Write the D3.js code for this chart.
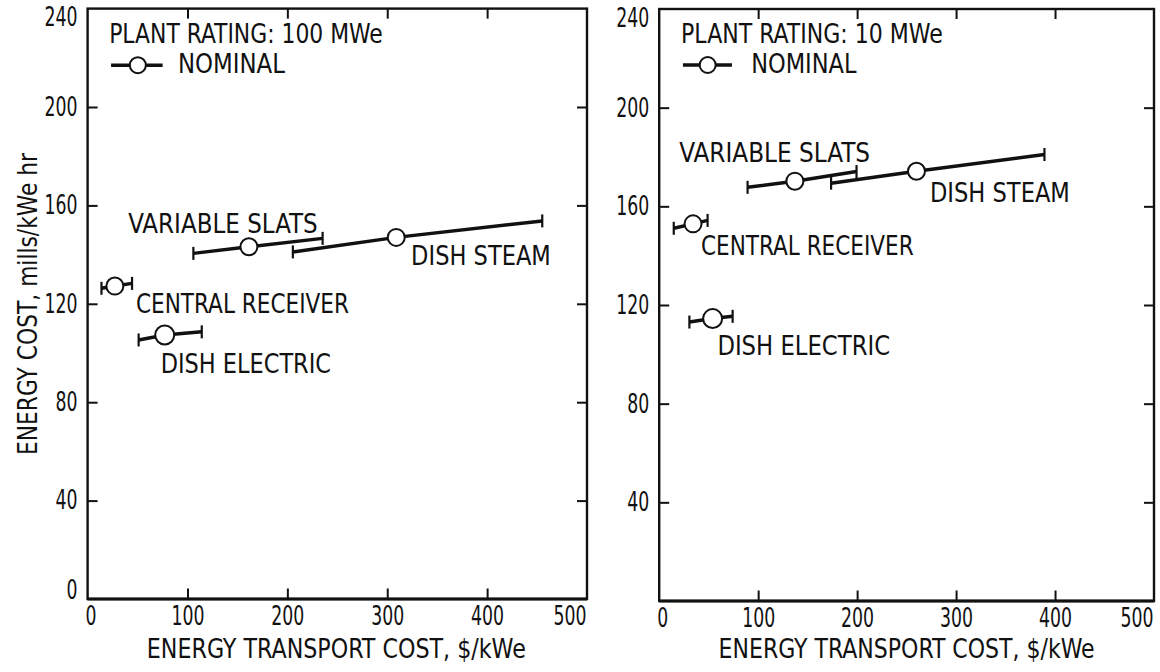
<!DOCTYPE html>
<html><head><meta charset="utf-8">
<script src="https://cdn.jsdelivr.net/npm/d3@7"></script>
<style>
body{margin:0;background:#fff}
svg{display:block}
text{font-family:"Liberation Sans Narrow","Arial Narrow","DejaVu Sans Condensed",sans-serif;fill:#111}
</style></head><body>
<svg id="c" width="1160" height="672"></svg>
<script>
// ---- data ----
const concepts = ["VARIABLE SLATS", "DISH STEAM", "CENTRAL RECEIVER", "DISH ELECTRIC"];
const xTicks = [0, 100, 200, 300, 400, 500];
const yTicks = [0, 40, 80, 120, 160, 200, 240];
const xTitle = "ENERGY TRANSPORT COST, $/kWe";
const yTitle = "ENERGY COST, mills/kWe hr";
const ratings = ["PLANT RATING: 100 MWe", "PLANT RATING: 10 MWe"];
const legendLabel = "NOMINAL";

// 100 MWe plant
const mw100NominalX = [161.5, 309, 27.3, 77.2];
const mw100NominalY = [143.2, 147.0, 127.2, 107.3];
const mw100LowX = [105.9, 205.5, 13.9, 51.1];
const mw100LowY = [140.5, 141.1, 126.3, 105.3];
const mw100HighX = [235.3, 455.2, 44.5, 114.3];
const mw100HighY = [146.6, 153.7, 128.3, 108.6];

// 10 MWe plant
const mw10NominalX = [137.1, 260, 34.2, 54];
const mw10NominalY = [170.2, 174.2, 152.9, 114.5];
const mw10LowX = [89.3, 173.7, 14.7, 30.5];
const mw10LowY = [167.7, 169.4, 151.1, 113.1];
const mw10HighX = [199.4, 389.3, 48.9, 74.2];
const mw10HighY = [174.1, 181, 154.3, 115.4];

// ---- layout (annotation anchors in data units) ----
const panels = [
  {
    xr: [87.6, 587], yr: [599, 8.6], rating: ratings[0],
    nx: mw100NominalX, ny: mw100NominalY, lx: mw100LowX, ly: mw100LowY, hx: mw100HighX, hy: mw100HighY,
    ratingPos: [21.6, 225.9, 273.6], legend: [23.5, 75.1, 50.3, 217.0], legendText: [90.5, 213.9, 107],
    labels: [[40.7, 148.9, 189.4], [323.9, 135.7, 139.7], [48.4, 116.1, 213.1], [73.2, 91.9, 170.3]],
    titleX: 249, titleW: 379, yZero: true, yTitle: true
  },
  {
    xr: [659.2, 1154], yr: [601, 9], rating: ratings[1],
    nx: mw10NominalX, ny: mw10NominalY, lx: mw10LowX, ly: mw10LowY, hx: mw10HighX, hy: mw10HighY,
    ratingPos: [22.1, 226.2, 261.7], legend: [24.0, 73.5, 49.0, 217.3], legendText: [92.9, 214.2, 105.4],
    labels: [[20.3, 178.1, 190.8], [273.6, 161.9, 139.9], [42.3, 140.3, 212.6], [58.8, 99.7, 172.7]],
    titleX: 250, titleW: 376, yZero: false, yTitle: false
  }
];

const svg = d3.select("#c");
const ink = "#111";
const FS = 26;

// squeeze tick digits horizontally (condensed look) with a scale transform
function digits(sel) {
  sel.each(function () {
    const t = d3.select(this);
    const nat = this.getComputedTextLength() || 1;
    const s = (this.textContent.length * 11) / nat;
    const x0 = +t.attr("x") || 0;
    t.attr("data-x", x0).attr("data-s", s)
     .attr("transform", `scale(${s},1)`).attr("x", x0 / s);
  });
}
function setX(sel, xv) {
  sel.each(function () {
    const t = d3.select(this);
    t.attr("x", xv / (+t.attr("data-s") || 1));
  });
}

panels.forEach(p => {
  const x = d3.scaleLinear([0, 500], p.xr);
  const y = d3.scaleLinear([0, 240], p.yr);
  const g = svg.append("g");

  // frame
  g.append("rect").attr("x", x(0)).attr("y", y(240))
    .attr("width", x(500) - x(0)).attr("height", y(0) - y(240))
    .attr("fill", "none").attr("stroke", ink).attr("stroke-width", 2.4);
  g.append("line").attr("x1", x(0)).attr("x2", x(500)).attr("y1", y(0)).attr("y2", y(0))
    .attr("stroke", ink).attr("stroke-width", 3);

  // bottom axis
  const bx = g.append("g").attr("transform", `translate(0,${y(0)})`)
    .call(d3.axisBottom(x).tickValues(xTicks).tickSize(-10.5).tickPadding(8).tickFormat(d3.format("d")));
  bx.select(".domain").remove();
  bx.selectAll(".tick line").attr("stroke", ink).attr("stroke-width", 2)
    .filter(d => d === 0 || d === 500).remove();
  bx.selectAll(".tick text").attr("font-size", FS).attr("fill", ink).call(digits);
  bx.selectAll(".tick").filter(d => d === 0).select("text").call(setX, 3);
  bx.selectAll(".tick").filter(d => d === 500).select("text").attr("text-anchor", "end").call(setX, -1);

  // top axis (ticks only)
  const tx = g.append("g").attr("transform", `translate(0,${y(240)})`)
    .call(d3.axisTop(x).tickValues(xTicks.slice(1, -1)).tickSize(-10).tickFormat(""));
  tx.select(".domain").remove();
  tx.selectAll(".tick line").attr("stroke", ink).attr("stroke-width", 2);

  // left axis
  const lt = p.yZero ? yTicks : yTicks.slice(1);
  const ly = g.append("g").attr("transform", `translate(${x(0)},0)`)
    .call(d3.axisLeft(y).tickValues(lt).tickSize(-10).tickPadding(10).tickFormat(d3.format("d")));
  ly.select(".domain").remove();
  ly.selectAll(".tick line").attr("stroke", ink).attr("stroke-width", 2)
    .filter(d => d === 0 || d === 240).remove();
  ly.selectAll(".tick text").attr("font-size", FS).attr("fill", ink).call(digits);
  ly.selectAll(".tick").filter(d => d === 240).select("text").attr("y", 9);
  ly.selectAll(".tick").filter(d => d === 0).select("text").attr("y", -9);

  // right axis (ticks only)
  const ry = g.append("g").attr("transform", `translate(${x(500)},0)`)
    .call(d3.axisRight(y).tickValues(yTicks.slice(1, -1)).tickSize(-10).tickFormat(""));
  ry.select(".domain").remove();
  ry.selectAll(".tick line").attr("stroke", ink).attr("stroke-width", 2);

  // x title
  g.append("text").attr("x", x(p.titleX)).attr("y", 658)
    .attr("text-anchor", "middle").attr("font-size", FS)
    .attr("textLength", p.titleW).attr("lengthAdjust", "spacingAndGlyphs").text(xTitle);

  if (p.yTitle) {
    g.append("text").attr("transform", "translate(36.5,304) rotate(-90)")
      .attr("text-anchor", "middle").attr("font-size", FS)
      .attr("textLength", 302).attr("lengthAdjust", "spacingAndGlyphs").text(yTitle);
  }

  // rating + legend
  g.append("text").attr("x", x(p.ratingPos[0])).attr("y", y(p.ratingPos[1]))
    .attr("font-size", FS).attr("textLength", p.ratingPos[2]).attr("lengthAdjust", "spacingAndGlyphs")
    .text(p.rating);
  g.append("line").attr("x1", x(p.legend[0])).attr("x2", x(p.legend[1]))
    .attr("y1", y(p.legend[3])).attr("y2", y(p.legend[3]))
    .attr("stroke", ink).attr("stroke-width", 3.5);
  g.append("circle").attr("cx", x(p.legend[2])).attr("cy", y(p.legend[3])).attr("r", 8)
    .attr("fill", "#fff").attr("stroke", ink).attr("stroke-width", 2);
  g.append("text").attr("x", x(p.legendText[0])).attr("y", y(p.legendText[1]))
    .attr("font-size", FS).attr("textLength", p.legendText[2]).attr("lengthAdjust", "spacingAndGlyphs")
    .text(legendLabel);

  // error bars
  const line = d3.line().x(d => x(d[0])).y(d => y(d[1]));
  concepts.forEach((c, i) => {
    const pts = [[p.lx[i], p.ly[i]], [p.nx[i], p.ny[i]], [p.hx[i], p.hy[i]]];
    g.append("path").attr("d", line(pts)).attr("fill", "none")
      .attr("stroke", ink).attr("stroke-width", 3.5);
    [[p.lx[i], p.ly[i]], [p.hx[i], p.hy[i]]].forEach(e => {
      g.append("line").attr("x1", x(e[0])).attr("x2", x(e[0]))
        .attr("y1", y(e[1]) - 6.5).attr("y2", y(e[1]) + 6.5)
        .attr("stroke", ink).attr("stroke-width", 2.2);
    });
    g.append("circle").attr("cx", x(p.nx[i])).attr("cy", y(p.ny[i]))
      .attr("r", i === 3 ? 9.5 : 8.5)
      .attr("fill", "#fff").attr("stroke", ink).attr("stroke-width", 2);
    const lb = p.labels[i];
    g.append("text").attr("x", x(lb[0])).attr("y", y(lb[1]))
      .attr("font-size", FS).attr("textLength", lb[2]).attr("lengthAdjust", "spacingAndGlyphs")
      .text(c);
  });
});
</script></body></html>
